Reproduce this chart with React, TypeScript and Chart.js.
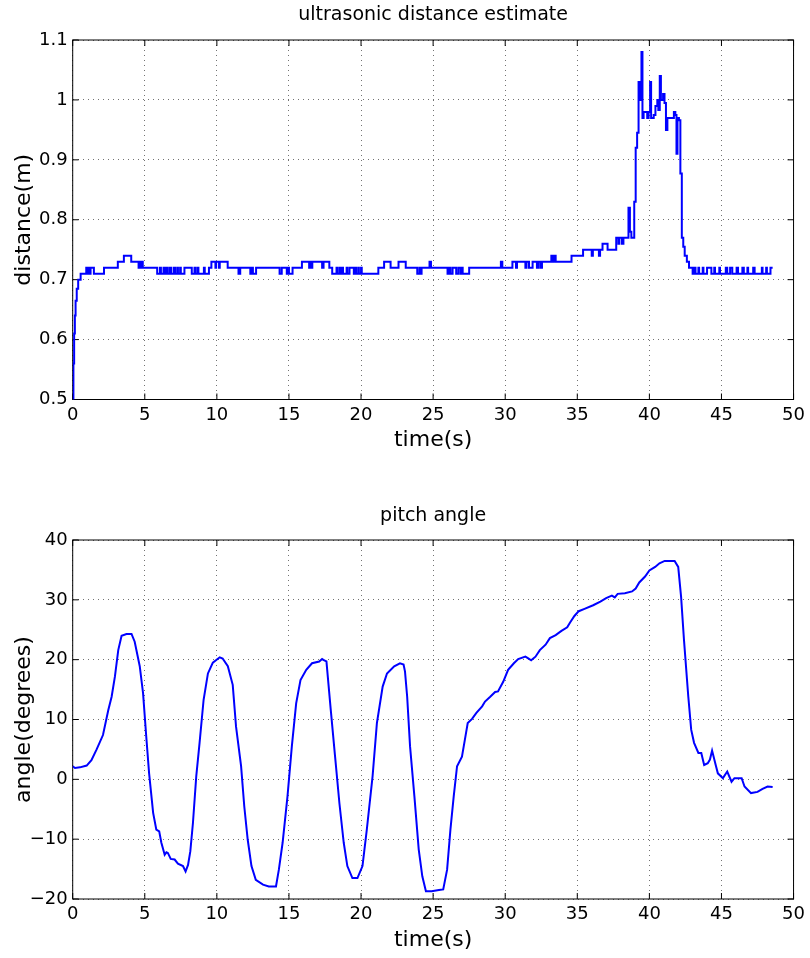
import React, { useEffect, useRef } from 'react';
import { Chart, registerables } from 'chart.js';

Chart.register(...registerables);

const FONT = '"DejaVu Sans", "Liberation Sans", Arial, sans-serif';

// ultrasonic distance estimate: time (s) at which the reading changes, and the new reading (m)
const distTime = [
  0, 0.05, 0.1, 0.15, 0.2, 0.28, 0.38, 0.55, 0.94, 1.05, 1.09, 1.2, 1.24, 1.47, 2.17, 3.13, 3.55, 4.06, 4.57, 4.62,
  4.72, 4.76, 4.86, 5.86, 6.05, 6.12, 6.3, 6.36, 6.5, 6.6, 6.75, 6.82, 7.0, 7.1, 7.25, 7.3, 7.45, 7.5, 7.75, 8.26,
  8.45, 8.5, 8.65, 8.72, 9.1, 9.16, 9.45, 9.62, 9.9, 9.95, 10.15, 10.2, 10.75, 11.5, 11.55, 11.58, 11.62, 12.32, 12.45, 12.5,
  12.72, 14.35, 14.5, 14.85, 14.95, 15.0, 15.25, 15.9, 16.4, 16.5, 16.55, 16.62, 17.3, 17.4, 17.8, 18.0, 18.3, 18.35, 18.5, 18.56,
  18.7, 18.75, 19.0, 19.05, 19.2, 19.5, 19.6, 19.65, 19.8, 19.85, 20.0, 20.05, 21.2, 21.6, 22.05, 22.6, 23.1, 23.9, 24.05, 24.1,
  24.2, 24.75, 24.85, 26.0, 26.1, 26.2, 26.35, 26.6, 26.75, 26.9, 27.0, 27.05, 27.5, 29.7, 29.8, 30.5, 30.75, 30.82, 31.4, 31.48,
  31.65, 31.9, 32.2, 32.3, 32.45, 32.55, 33.2, 33.3, 33.36, 33.5, 34.6, 35.4, 36.0, 36.08, 36.5, 36.58, 36.75, 37.1, 37.7, 37.85,
  37.92, 38.1, 38.2, 38.55, 38.65, 38.75, 38.95, 39.05, 39.15, 39.25, 39.32, 39.45, 39.52, 39.6, 39.85, 39.95, 40.05, 40.12, 40.3, 40.42,
  40.55, 40.62, 40.72, 40.8, 40.95, 41.05, 41.15, 41.25, 41.7, 41.8, 41.88, 41.95, 42.05, 42.15, 42.25, 42.35, 42.45, 42.6, 42.75, 43.0,
  43.1, 43.2, 43.4, 43.45, 43.7, 43.75, 44.0, 44.3, 44.5, 44.55, 44.85, 44.9, 45.3, 45.4, 45.6, 45.75, 46.05, 46.15, 46.45, 46.55,
  46.8, 46.85, 47.2, 47.3, 47.8, 47.85, 48.1, 48.15, 48.4, 48.55,
];
const distValue = [
  0.5, 0.56, 0.61, 0.64, 0.665, 0.685, 0.7, 0.71, 0.72, 0.71, 0.72, 0.71, 0.72, 0.71, 0.72, 0.73, 0.74, 0.73, 0.72, 0.73,
  0.72, 0.73, 0.72, 0.71, 0.72, 0.71, 0.72, 0.71, 0.72, 0.71, 0.72, 0.71, 0.72, 0.71, 0.72, 0.71, 0.72, 0.71, 0.72, 0.71,
  0.72, 0.71, 0.72, 0.71, 0.72, 0.71, 0.72, 0.73, 0.72, 0.73, 0.72, 0.73, 0.72, 0.71, 0.72, 0.71, 0.72, 0.71, 0.72, 0.71,
  0.72, 0.71, 0.72, 0.71, 0.72, 0.71, 0.72, 0.73, 0.72, 0.73, 0.72, 0.73, 0.72, 0.73, 0.72, 0.71, 0.72, 0.71, 0.72, 0.71,
  0.72, 0.71, 0.72, 0.71, 0.72, 0.71, 0.72, 0.71, 0.72, 0.71, 0.72, 0.71, 0.72, 0.73, 0.72, 0.73, 0.72, 0.71, 0.72, 0.71,
  0.72, 0.73, 0.72, 0.71, 0.72, 0.71, 0.72, 0.71, 0.72, 0.71, 0.72, 0.71, 0.72, 0.73, 0.72, 0.73, 0.72, 0.73, 0.72, 0.73,
  0.72, 0.73, 0.72, 0.73, 0.72, 0.73, 0.74, 0.73, 0.74, 0.73, 0.74, 0.75, 0.74, 0.75, 0.74, 0.75, 0.76, 0.75, 0.77, 0.76,
  0.77, 0.76, 0.77, 0.82, 0.78, 0.77, 0.83, 0.92, 0.945, 1.03, 1.0, 1.08, 0.97, 0.98, 0.97, 0.98, 1.03, 0.97, 0.975, 0.99,
  1.0, 0.983, 1.04, 1.0, 1.01, 0.995, 0.95, 0.97, 0.98, 0.975, 0.91, 0.97, 0.966, 0.877, 0.77, 0.755, 0.74, 0.73, 0.72, 0.71,
  0.72, 0.71, 0.72, 0.71, 0.72, 0.71, 0.72, 0.71, 0.72, 0.71, 0.72, 0.71, 0.72, 0.71, 0.72, 0.71, 0.72, 0.71, 0.72, 0.71,
  0.72, 0.71, 0.72, 0.71, 0.72, 0.71, 0.72, 0.71, 0.72, 0.72,
];

// pitch angle: time (s) and angle (degrees)
const pitchTime = [
  0, 0.16, 0.5, 0.97, 1.3, 1.66, 2.1, 2.47, 2.7, 2.93, 3.16, 3.39, 3.73, 4.08, 4.3, 4.65, 4.88, 5.1, 5.3, 5.58,
  5.8, 6.0, 6.15, 6.38, 6.5, 6.6, 6.8, 7.07, 7.3, 7.65, 7.83, 8.0, 8.16, 8.34, 8.57, 8.8, 9.08, 9.38, 9.72, 10.2,
  10.4, 10.76, 11.1, 11.33, 11.68, 11.9, 12.14, 12.4, 12.7, 13.2, 13.6, 14.1, 14.3, 14.56, 14.9, 15.2, 15.5, 15.8, 16.2, 16.6,
  17.1, 17.3, 17.45, 17.6, 17.9, 18.2, 18.5, 18.8, 19.05, 19.4, 19.75, 20.1, 20.4, 20.8, 21.1, 21.5, 21.8, 22.3, 22.7, 22.95,
  23.05, 23.2, 23.4, 23.7, 24.0, 24.25, 24.5, 24.9, 25.4, 25.7, 25.97, 26.2, 26.43, 26.66, 27.0, 27.2, 27.4, 27.7, 28.0, 28.4,
  28.6, 28.96, 29.3, 29.5, 29.86, 30.2, 30.6, 30.9, 31.4, 31.6, 31.8, 32.1, 32.4, 32.8, 33.1, 33.5, 33.9, 34.3, 34.5, 34.8,
  35.1, 35.5, 36.1, 36.6, 37.0, 37.4, 37.6, 37.8, 38.3, 38.8, 39.05, 39.3, 39.7, 40.0, 40.4, 40.7, 41.06, 41.75, 42.0, 42.2,
  42.4, 42.7, 42.9, 43.1, 43.4, 43.6, 43.8, 44.05, 44.2, 44.35, 44.6, 44.75, 45.1, 45.4, 45.7, 45.9, 46.4, 46.6, 47.05, 47.5,
  47.85, 48.2, 48.55,
];
const pitchValue = [
  2.2, 1.9, 2.0, 2.3, 3.2, 5.0, 7.4, 11.6, 13.8, 17.2, 21.6, 24.0, 24.3, 24.3, 23.0, 18.9, 14.4, 7.2, 1.0, -5.6,
  -8.4, -8.7, -10.6, -12.6, -12.2, -12.3, -13.3, -13.4, -14.1, -14.5, -15.4, -14.3, -12.0, -7.3, 0.5, 6.1, 13.3, 17.7, 19.5, 20.4,
  20.2, 18.9, 15.8, 8.8, 2.2, -4.5, -10.1, -14.5, -16.8, -17.6, -17.9, -17.9, -15.1, -10.6, -2.8, 5.5, 12.7, 16.6, 18.3, 19.4,
  19.7, 20.1, 19.9, 19.7, 11.6, 3.8, -4.0, -10.6, -14.5, -16.5, -16.5, -14.5, -8.4, 0.5, 9.4, 15.5, 17.7, 18.9, 19.4, 19.2,
  18.0, 13.8, 5.5, -2.8, -11.7, -16.2, -18.7, -18.7, -18.5, -18.4, -15.1, -8.4, -2.8, 2.2, 3.8, 6.6, 9.4, 10.1, 11.1, 12.2,
  13.0, 13.8, 14.6, 14.7, 16.3, 18.3, 19.4, 20.1, 20.5, 20.2, 19.9, 20.5, 21.6, 22.5, 23.6, 24.1, 24.8, 25.4, 26.2, 27.3,
  28.1, 28.5, 29.1, 29.7, 30.3, 30.7, 30.4, 31.0, 31.1, 31.4, 31.9, 32.9, 33.9, 34.9, 35.5, 36.1, 36.5, 36.5, 35.5, 30.5,
  23.3, 13.8, 8.3, 6.1, 4.4, 4.4, 2.4, 2.7, 3.3, 4.8, 2.4, 1.0, 0.2, 1.3, -0.4, 0.2, 0.2, -1.2, -2.3, -2.1,
  -1.6, -1.2, -1.3,
];

const timeTicks = [0, 5, 10, 15, 20, 25, 30, 35, 40, 45, 50];
const timeTickLabels = ['0', '5', '10', '15', '20', '25', '30', '35', '40', '45', '50'];
const distTicks = [0.5, 0.6, 0.7, 0.8, 0.9, 1.0, 1.1];
const distTickLabels = ['0.5', '0.6', '0.7', '0.8', '0.9', '1', '1.1'];
const pitchTicks = [-20, -10, 0, 10, 20, 30, 40];
const pitchTickLabels = ['\u221220', '\u221210', '0', '10', '20', '30', '40'];

const framePlugin = {
  id: 'matlabFrame',
  beforeDatasetsDraw(chart: any) {
    const { ctx, chartArea: a, scales } = chart;
    const len = 6;
    ctx.save();
    ctx.strokeStyle = '#000';
    ctx.lineWidth = 1;
    ctx.setLineDash([]);
    ctx.strokeRect(a.left, a.top, a.right - a.left, a.bottom - a.top);
    ctx.beginPath();
    for (const t of scales.x.ticks) {
      const px = scales.x.getPixelForValue(t.value);
      ctx.moveTo(px, a.bottom);
      ctx.lineTo(px, a.bottom - len);
      ctx.moveTo(px, a.top);
      ctx.lineTo(px, a.top + len);
    }
    for (const t of scales.y.ticks) {
      const py = scales.y.getPixelForValue(t.value);
      ctx.moveTo(a.left, py);
      ctx.lineTo(a.left + len, py);
      ctx.moveTo(a.right, py);
      ctx.lineTo(a.right - len, py);
    }
    ctx.stroke();
    ctx.restore();
  },
};

type Params = {
  xs: number[];
  ys: number[];
  stepped: any;
  title: string;
  titleTop: number;
  yTitle: string;
  yMin: number;
  yMax: number;
  yTicks: number[];
  yLabels: string[];
  padBottom: number;
  xAxisHeight: number;
  xTitlePad: number;
};

function buildConfig(p: Params): any {
  const tickFont = { family: FONT, size: 18 };
  const labelFont = { family: FONT, size: 22 };
  const gridColor = 'rgba(0,0,0,0.55)';
  return {
    type: 'line',
    data: {
      datasets: [
        {
          data: p.xs.map((x, i) => ({ x, y: p.ys[i] })),
          borderColor: '#0000ff',
          borderWidth: 2,
          pointRadius: 0,
          fill: false,
          tension: 0,
          stepped: p.stepped,
        },
      ],
    },
    options: {
      responsive: false,
      animation: false,
      devicePixelRatio: 1,
      layout: { padding: { left: 0, right: 15, top: 0, bottom: p.padBottom } },
      plugins: {
        legend: { display: false },
        tooltip: { enabled: false },
        title: {
          display: true,
          text: p.title,
          fullSize: false,
          color: '#000',
          font: { family: FONT, size: 19, weight: 'normal', lineHeight: 1.2 },
          padding: { top: p.titleTop, bottom: 40 - 22.8 - p.titleTop },
        },
      },
      scales: {
        x: {
          type: 'linear',
          min: 0,
          max: 50,
          afterBuildTicks: (s: any) => {
            s.ticks = timeTicks.map((v) => ({ value: v }));
          },
          afterFit: (s: any) => {
            s.height = p.xAxisHeight;
          },
          ticks: {
            padding: 5,
            color: '#000',
            font: tickFont,
            maxRotation: 0,
            autoSkip: false,
            callback: (_v: any, i: number) => timeTickLabels[i],
          },
          grid: { color: gridColor, drawTicks: false, lineWidth: 1 },
          border: { display: false, dash: [1, 4] },
          title: {
            display: true,
            text: 'time(s)',
            color: '#000',
            font: labelFont,
            padding: { top: 0, bottom: p.xTitlePad },
          },
        },
        y: {
          type: 'linear',
          min: p.yMin,
          max: p.yMax,
          afterBuildTicks: (s: any) => {
            s.ticks = p.yTicks.map((v) => ({ value: v }));
          },
          afterFit: (s: any) => {
            s.width = 72.7;
          },
          ticks: {
            padding: 5,
            color: '#000',
            font: tickFont,
            autoSkip: false,
            callback: (_v: any, i: number) => p.yLabels[i],
          },
          grid: { color: gridColor, drawTicks: false, lineWidth: 1 },
          border: { display: false, dash: [1, 4] },
          title: {
            display: true,
            text: p.yTitle,
            color: '#000',
            font: labelFont,
            padding: { top: 11, bottom: 0 },
          },
        },
      },
    },
    plugins: [framePlugin],
  };
}

export default function App() {
  const topRef = useRef<HTMLCanvasElement | null>(null);
  const botRef = useRef<HTMLCanvasElement | null>(null);

  useEffect(() => {
    const c1 = new Chart(
      topRef.current as HTMLCanvasElement,
      buildConfig({
        xs: distTime,
        ys: distValue,
        stepped: 'before',
        title: 'ultrasonic distance estimate',
        titleTop: 3.6,
        yTitle: 'distance(m)',
        yMin: 0.5,
        yMax: 1.1,
        yTicks: distTicks,
        yLabels: distTickLabels,
        padBottom: 20.5,
        xAxisHeight: 60,
        xTitlePad: 6.3,
      })
    );
    const c2 = new Chart(
      botRef.current as HTMLCanvasElement,
      buildConfig({
        xs: pitchTime,
        ys: pitchValue,
        stepped: false,
        title: 'pitch angle',
        titleTop: 4.6,
        yTitle: 'angle(degrees)',
        yMin: -20,
        yMax: 40,
        yTicks: pitchTicks,
        yLabels: pitchTickLabels,
        padBottom: 0,
        xAxisHeight: 59,
        xTitlePad: 4.8,
      })
    );
    return () => {
      c1.destroy();
      c2.destroy();
    };
  }, []);

  return (
    <div style={{ position: 'absolute', left: 0, top: 0, width: 810, height: 958, background: '#fff' }}>
      <canvas ref={topRef} width={810} height={480} style={{ position: 'absolute', left: 0, top: 0 }} />
      <canvas ref={botRef} width={810} height={458} style={{ position: 'absolute', left: 0, top: 500 }} />
    </div>
  );
}
